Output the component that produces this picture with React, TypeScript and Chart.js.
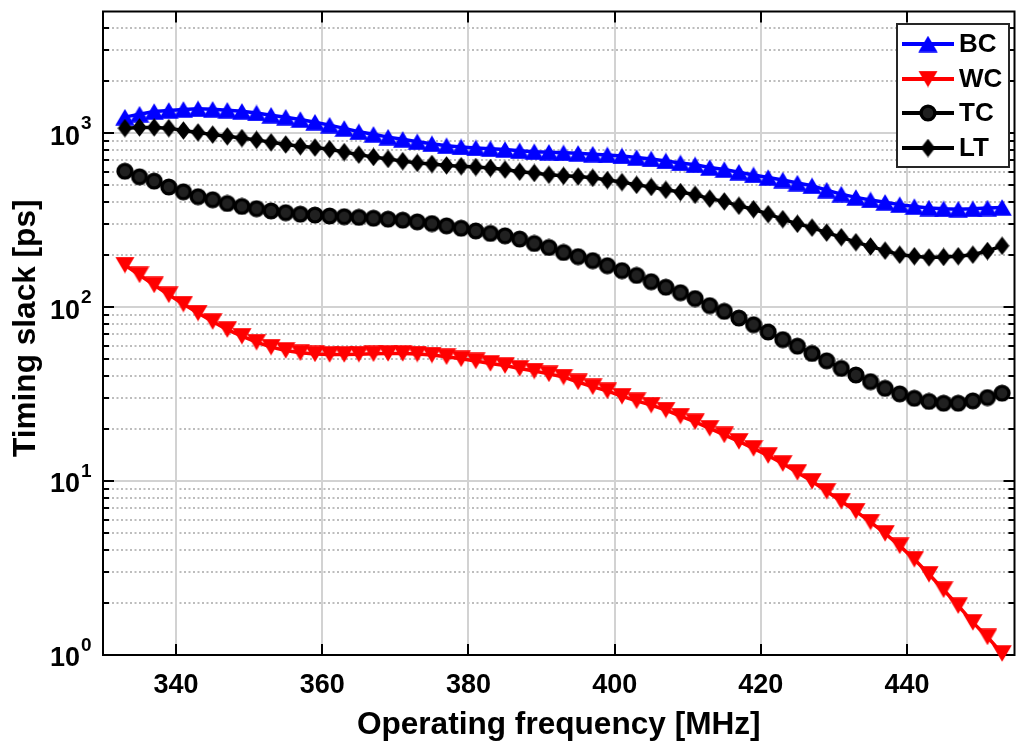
import React, { useEffect, useRef } from 'react';
import { Chart, registerables } from 'chart.js';

Chart.register(...registerables);

const FONT = "'Liberation Sans', Arial, Helvetica, sans-serif";

// Operating frequency (MHz) of each sample
const freqMHz = [
  333, 335, 337, 339, 341, 343, 345, 347, 349, 351,
  353, 355, 357, 359, 361, 363, 365, 367, 369, 371,
  373, 375, 377, 379, 381, 383, 385, 387, 389, 391,
  393, 395, 397, 399, 401, 403, 405, 407, 409, 411,
  413, 415, 417, 419, 421, 423, 425, 427, 429, 431,
  433, 435, 437, 439, 441, 443, 445, 447, 449, 451,
  453,
];

// Timing slack [ps]
const bcSlack = [
  1235, 1285, 1330, 1350, 1368, 1380, 1370, 1352, 1334, 1305,
  1267, 1234, 1197, 1155, 1111, 1064, 1018, 984, 948, 921,
  892, 869, 846, 832, 822, 813, 805, 792, 782, 776,
  770, 765, 757, 749, 739, 723, 710, 692, 674, 657,
  634, 617, 596, 575, 555, 537, 516, 498, 470, 446,
  427, 413, 400, 388, 378, 371, 367, 365, 367, 371,
  374,
];

const wcSlack = [
  174.5, 153, 134, 117.6, 104, 92.4, 82.5, 74.2, 68.0, 62.8,
  58.8, 56.3, 54.6, 53.8, 53.4, 53.4, 53.6, 53.9, 54.1, 54.1,
  53.7, 53.0, 51.8, 50.4, 49.0, 47.4, 46.1, 44.4, 42.9, 41.3,
  39.6, 37.1, 34.8, 33.0, 30.7, 28.9, 27.3, 25.6, 23.6, 21.9,
  20.1, 18.4, 16.9, 15.4, 14.0, 12.6, 11.2, 9.96, 8.73, 7.65,
  6.71, 5.81, 5.00, 4.24, 3.55, 2.91, 2.37, 1.92, 1.54, 1.27,
  1.02,
];

const tcSlack = [
  604, 561, 530, 490, 460, 431, 414, 394, 379, 368,
  357, 349, 342, 338, 334, 331, 328, 324, 320, 316,
  309, 302, 293, 284, 274, 265, 257, 246, 232, 220,
  206, 195, 185, 173, 162, 152, 140, 130, 121, 112,
  102, 94.5, 86.5, 79.2, 71.9, 65.0, 59.6, 54.1, 49.1, 44.4,
  40.7, 37.3, 34.1, 31.7, 29.9, 28.7, 28.0, 28.0, 28.9, 30.2,
  32.0,
];

const ltSlack = [
  1068, 1078, 1078, 1068, 1035, 1009, 980, 958, 936, 914,
  885, 860, 840, 826, 808, 778, 752, 729, 710, 690,
  674, 664, 652, 645, 638, 630, 617, 600, 590, 576,
  568, 563, 553, 537, 523, 504, 490, 472, 458, 442,
  420, 405, 382, 365, 342, 320, 301, 286, 268, 252,
  236, 223, 211, 200, 196, 193, 194, 196, 200, 210,
  225,
];

const seriesLabels = ['BC', 'WC', 'TC', 'LT'];
const seriesColors = ['#0000ff', '#ff0000', '#000000', '#000000'];
const markerKinds = ['up', 'down', 'circle', 'diamond'];

const xTickValues = [340, 360, 380, 400, 420, 440];
const yDecadeExponents = [0, 1, 2, 3];
const yMinorValues = [
  2, 3, 4, 5, 6, 7, 8, 9,
  20, 30, 40, 50, 60, 70, 80, 90,
  200, 300, 400, 500, 600, 700, 800, 900,
  2000, 3000, 4000, 5000,
];

const X_MIN = 330;
const X_MAX = 454.7;
const Y_MIN = 1;
const Y_MAX = 5000;

const X_TITLE = 'Operating frequency [MHz]';
const Y_TITLE = 'Timing slack [ps]';

function toPoints(values: number[]) {
  return freqMHz.map((f, i) => ({ x: f, y: values[i] }));
}

function makeMarker(kind: string, color: string): HTMLCanvasElement {
  const c = document.createElement('canvas');
  let w = 20;
  let h = 17;
  if (kind === 'circle') { w = 18; h = 18; }
  if (kind === 'diamond') { w = 15; h = 19; }
  c.width = w;
  c.height = h;
  const g = c.getContext('2d') as CanvasRenderingContext2D;
  g.fillStyle = color;
  g.beginPath();
  if (kind === 'up') {
    g.moveTo(w / 2, 0.3);
    g.lineTo(w - 0.3, h - 0.3);
    g.lineTo(0.3, h - 0.3);
    g.closePath();
    g.fill();
  } else if (kind === 'down') {
    g.moveTo(0.3, 0.3);
    g.lineTo(w - 0.3, 0.3);
    g.lineTo(w / 2, h - 0.3);
    g.closePath();
    g.fill();
  } else if (kind === 'circle') {
    g.arc(w / 2, h / 2, 6.9, 0, Math.PI * 2);
    g.fillStyle = '#202020';
    g.fill();
    g.lineWidth = 3.4;
    g.strokeStyle = color;
    g.stroke();
  } else {
    g.moveTo(w / 2, 0.3);
    g.lineTo(w - 0.3, h / 2);
    g.lineTo(w / 2, h - 0.3);
    g.lineTo(0.3, h / 2);
    g.closePath();
    g.fill();
  }
  return c;
}

const axesPlugin = {
  id: 'matlabAxes',
  beforeDatasetsDraw(chart: any) {
    const { ctx, chartArea } = chart;
    const { left, right, top, bottom } = chartArea;
    const xs = chart.scales.x;
    const ys = chart.scales.y;
    ctx.save();

    // minor dotted grid
    ctx.lineWidth = 2;
    ctx.strokeStyle = '#bdbdbd';
    ctx.setLineDash([2, 2.5]);
    for (const v of yMinorValues) {
      const py = Math.round(ys.getPixelForValue(v));
      if (py <= top + 2) continue;
      ctx.beginPath();
      ctx.moveTo(left, py);
      ctx.lineTo(right, py);
      ctx.stroke();
    }
    ctx.setLineDash([]);

    // major grid
    ctx.strokeStyle = '#d2d2d2';
    for (const e of yDecadeExponents) {
      const py = Math.round(ys.getPixelForValue(Math.pow(10, e)));
      if (py >= bottom - 2) continue;
      ctx.beginPath();
      ctx.moveTo(left, py);
      ctx.lineTo(right, py);
      ctx.stroke();
    }
    for (const v of xTickValues) {
      const px = Math.round(xs.getPixelForValue(v));
      ctx.beginPath();
      ctx.moveTo(px, top);
      ctx.lineTo(px, bottom);
      ctx.stroke();
    }

    // box
    ctx.strokeStyle = '#000';
    ctx.lineWidth = 2;
    ctx.strokeRect(left, top, right - left, bottom - top);

    // x ticks (inward, top and bottom)
    for (const v of xTickValues) {
      const px = Math.round(xs.getPixelForValue(v));
      ctx.beginPath();
      ctx.moveTo(px, bottom);
      ctx.lineTo(px, bottom - 11);
      ctx.moveTo(px, top);
      ctx.lineTo(px, top + 11);
      ctx.stroke();
    }
    // y ticks
    for (const e of yDecadeExponents) {
      const py = Math.round(ys.getPixelForValue(Math.pow(10, e)));
      ctx.beginPath();
      ctx.moveTo(left, py);
      ctx.lineTo(left + 11, py);
      ctx.moveTo(right, py);
      ctx.lineTo(right - 11, py);
      ctx.stroke();
    }
    for (const v of yMinorValues) {
      const py = Math.round(ys.getPixelForValue(v));
      if (py <= top + 2) continue;
      ctx.beginPath();
      ctx.moveTo(left, py);
      ctx.lineTo(left + 6, py);
      ctx.moveTo(right, py);
      ctx.lineTo(right - 6, py);
      ctx.stroke();
    }

    // y tick labels 10^e
    ctx.fillStyle = '#000';
    ctx.textBaseline = 'middle';
    for (const e of yDecadeExponents) {
      const py = ys.getPixelForValue(Math.pow(10, e));
      ctx.font = `bold 27px ${FONT}`;
      ctx.textAlign = 'right';
      ctx.fillText('10', 80, py + 4);
      ctx.font = `bold 19px ${FONT}`;
      ctx.textAlign = 'left';
      ctx.fillText(String(e), 81, py - 9);
    }

    // y axis title
    ctx.save();
    ctx.translate(26, (top + bottom) / 2 - 5);
    ctx.rotate(-Math.PI / 2);
    ctx.font = `bold 31.6px ${FONT}`;
    ctx.textAlign = 'center';
    ctx.textBaseline = 'middle';
    ctx.fillText(Y_TITLE, 0, 0);
    ctx.restore();

    ctx.restore();
  },
  afterDatasetsDraw(chart: any) {
    const { ctx } = chart;
    const bx = 897;
    const by = 24;
    const bw = 112;
    const bh = 143;
    ctx.save();
    ctx.fillStyle = '#fff';
    ctx.fillRect(bx, by, bw, bh);
    ctx.strokeStyle = '#262626';
    ctx.lineWidth = 2;
    ctx.strokeRect(bx, by, bw, bh);
    chart.data.datasets.forEach((ds: any, i: number) => {
      const ry = Math.round(by + 20 + i * 34.6);
      const color = seriesColors[i];
      ctx.strokeStyle = color;
      ctx.lineWidth = 4;
      ctx.beginPath();
      ctx.moveTo(bx + 5, ry);
      ctx.lineTo(bx + 57, ry);
      ctx.stroke();
      const img = ds.pointStyle as HTMLCanvasElement;
      ctx.drawImage(img, bx + 31 - img.width / 2, ry - img.height / 2);
      ctx.fillStyle = '#000';
      ctx.font = `bold 26px ${FONT}`;
      ctx.textAlign = 'left';
      ctx.textBaseline = 'middle';
      ctx.fillText(ds.label, bx + 62, ry + 1);
    });
    ctx.restore();
  },
};

export default function App() {
  const canvasRef = useRef<HTMLCanvasElement | null>(null);

  useEffect(() => {
    const canvas = canvasRef.current;
    if (!canvas) return;
    Chart.defaults.font.family = FONT;

    const seriesValues = [bcSlack, wcSlack, tcSlack, ltSlack];
    const datasets = seriesValues.map((vals, i) => ({
      label: seriesLabels[i],
      data: toPoints(vals),
      borderColor: seriesColors[i],
      backgroundColor: seriesColors[i],
      borderWidth: 3.5,
      pointStyle: makeMarker(markerKinds[i], seriesColors[i]),
      pointRadius: 8,
      tension: 0,
      fill: false,
      clip: false,
      order: 3 - i,
    }));

    const chart = new Chart(canvas, {
      type: 'line',
      data: { datasets } as any,
      options: {
        responsive: false,
        maintainAspectRatio: false,
        animation: false,
        devicePixelRatio: 1,
        events: [],
        layout: { padding: { top: 7, right: 2, left: 0, bottom: 0 } },
        plugins: {
          legend: { display: false },
          tooltip: { enabled: false },
        },
        scales: {
          x: {
            type: 'linear',
            position: 'bottom',
            min: X_MIN,
            max: X_MAX,
            grid: { display: false },
            border: { display: false },
            ticks: {
              color: '#000',
              font: { size: 27, weight: 'bold', family: FONT },
              padding: 6,
              maxRotation: 0,
              autoSkip: false,
            },
            afterBuildTicks: (s: any) => {
              s.ticks = xTickValues.map((v) => ({ value: v }));
            },
            afterFit: (s: any) => {
              s.height = 91;
            },
            title: {
              display: true,
              text: X_TITLE,
              color: '#000',
              font: { size: 31.6, weight: 'bold', family: FONT },
              padding: { top: 0, bottom: 2 },
            },
          },
          y: {
            type: 'logarithmic',
            position: 'left',
            min: Y_MIN,
            max: Y_MAX,
            grid: { display: false },
            border: { display: false },
            ticks: { display: false },
            afterFit: (s: any) => {
              s.width = 103;
            },
            title: { display: false, text: Y_TITLE },
          },
        },
      } as any,
      plugins: [axesPlugin],
    });

    return () => chart.destroy();
  }, []);

  return (
    <div style={{ position: 'absolute', left: 0, top: 0, width: 1026, height: 746, background: '#fff' }}>
      <canvas ref={canvasRef} width={1026} height={746} style={{ display: 'block' }} />
    </div>
  );
}
